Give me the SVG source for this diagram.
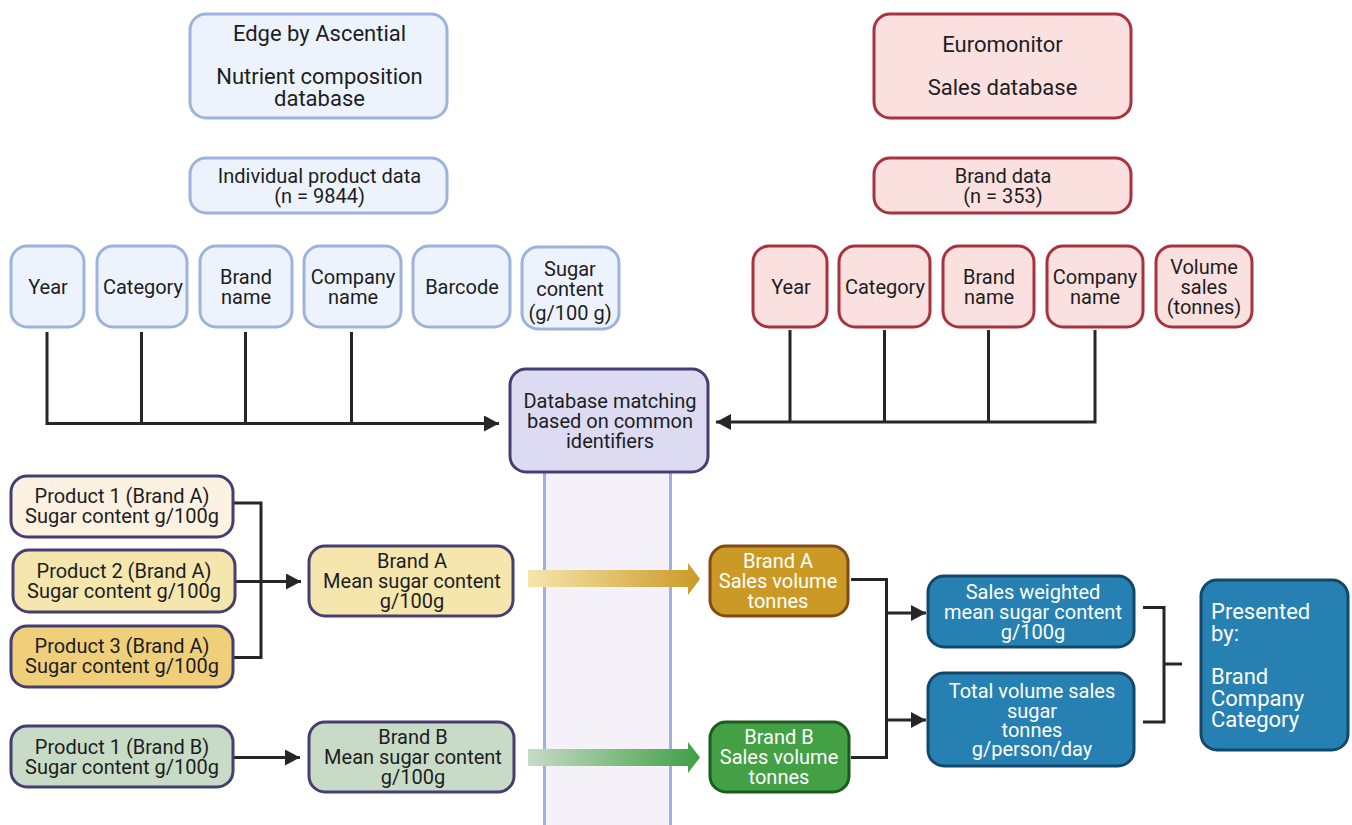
<svg xmlns="http://www.w3.org/2000/svg" width="1352" height="825" viewBox="0 0 1352 825">
<style>
text{font-family:Roboto,"Liberation Sans",sans-serif;font-size:20px;fill:#1d1d22;text-anchor:middle}
.w text,text.w{fill:#fff}
.big{font-size:22px}
.l{text-anchor:start}
rect{stroke-width:3}
.bl{fill:#edf3fc;stroke:#9db3dc}
.rd{fill:#fbe0e0;stroke:#a8333f}
.pu{stroke:#453f71}
.bu{fill:#2681b2;stroke:#12486b}
.c{fill:none;stroke:#262626;stroke-width:3}
</style>
<defs>
<marker id="a" markerUnits="userSpaceOnUse" markerWidth="16" markerHeight="16" refX="15" refY="8" orient="auto"><path d="M0 0L15 8L0 16z" fill="#262626"/></marker>
<linearGradient id="ga"><stop offset="0" stop-color="#f5e6ad"/><stop offset="1" stop-color="#cb9a26"/></linearGradient>
<linearGradient id="gb"><stop offset="0" stop-color="#c7dbc6"/><stop offset="1" stop-color="#3f9f45"/></linearGradient>
</defs>
<rect id="band" x="544.500" y="470" width="126" height="360" fill="#f5f1f9" stroke="none"/>
<path d="M544.500 470V825M670.500 470V825" fill="none" stroke="#9db3dc" stroke-width="3"/>
<g id="connectors">
<path class="c" d="M47 332V423.500H499" marker-end="url(#a)"/>
<path class="c" d="M141.500 332V423M245.500 332V423M351.500 332V423"/>
<path class="c" d="M1095 330V422H716" marker-end="url(#a)"/>
<path class="c" d="M790 330V422M884.500 330V422M988.500 330V422"/>
<path class="c" d="M233 503H261V657.500H233"/>
<path class="c" d="M235 581.500H301" marker-end="url(#a)"/>
<path class="c" d="M233 757.500H300" marker-end="url(#a)"/>
<path class="c" d="M851 579.500H886.500V757.500H851"/>
<path class="c" d="M886.500 613H926" marker-end="url(#a)"/>
<path class="c" d="M886.500 720H926" marker-end="url(#a)"/>
<path class="c" d="M1143 607.500H1164V722H1143M1164 664H1182"/>
<path d="M528 570H688V563L700 579L688 595V587H528z" fill="url(#ga)"/>
<path d="M528 749H688V742L700 757.500L688 773V766H528z" fill="url(#gb)"/>
</g>
<g id="edge"><rect class="bl" x="190" y="14" width="257" height="104" rx="16"/><text class="big" x="319.500" y="41">Edge by Ascential</text><text class="big" x="319.500" y="84">Nutrient composition</text><text class="big" x="319.500" y="106">database</text></g>
<g id="euromonitor"><rect class="rd" x="874" y="14" width="257" height="104" rx="16"/><text class="big" x="1002.500" y="52">Euromonitor</text><text class="big" x="1002.500" y="95">Sales database</text></g>
<g id="individual"><rect class="bl" x="190" y="158" width="257" height="55" rx="16"/><text x="319.500" y="183">Individual product data</text><text x="319.500" y="203">(n = 9844)</text></g>
<g id="brand-data"><rect class="rd" x="874" y="158" width="257" height="55" rx="16"/><text x="1003" y="183">Brand data</text><text x="1003" y="203">(n = 353)</text></g>
<g id="l-year"><rect class="bl" x="11" y="246" width="73" height="81" rx="16"/><text x="48" y="294">Year</text></g>
<g id="l-category"><rect class="bl" x="97" y="246" width="90" height="81" rx="16"/><text x="143" y="294">Category</text></g>
<g id="l-brand"><rect class="bl" x="200" y="246" width="92" height="81" rx="16"/><text x="246" y="284">Brand</text><text x="246" y="304">name</text></g>
<g id="l-company"><rect class="bl" x="304" y="246" width="97" height="81" rx="16"/><text x="353" y="284">Company</text><text x="353" y="304">name</text></g>
<g id="l-barcode"><rect class="bl" x="413" y="246" width="97" height="81" rx="16"/><text x="462" y="294">Barcode</text></g>
<g id="l-sugar"><rect class="bl" x="522" y="247" width="97" height="82" rx="16"/><text x="570" y="276">Sugar</text><text x="570" y="296">content</text><text x="570" y="320">(g/100 g)</text></g>
<g id="r-year"><rect class="rd" x="753" y="246" width="74" height="81" rx="16"/><text x="791" y="294">Year</text></g>
<g id="r-category"><rect class="rd" x="839" y="246" width="91" height="81" rx="16"/><text x="885" y="294">Category</text></g>
<g id="r-brand"><rect class="rd" x="943" y="246" width="91" height="81" rx="16"/><text x="989" y="284">Brand</text><text x="989" y="304">name</text></g>
<g id="r-company"><rect class="rd" x="1047" y="246" width="96" height="81" rx="16"/><text x="1095" y="284">Company</text><text x="1095" y="304">name</text></g>
<g id="r-volume"><rect class="rd" x="1156" y="246" width="96" height="81" rx="16"/><text x="1204" y="274">Volume</text><text x="1204" y="294">sales</text><text x="1204" y="314">(tonnes)</text></g>
<g id="matching"><rect class="pu" fill="#dcdbf2" x="510" y="369" width="198" height="103" rx="16"/><text x="610" y="408">Database matching</text><text x="610" y="428">based on common</text><text x="610" y="448">identifiers</text></g>
<g id="p1a"><rect class="pu" fill="#fdf1e2" x="11" y="476" width="222" height="61" rx="16"/><text x="122" y="503">Product 1 (Brand A)</text><text x="122" y="523">Sugar content g/100g</text></g>
<g id="p2a"><rect class="pu" fill="#f5e6ad" x="13" y="550" width="222" height="62" rx="16"/><text x="124" y="578">Product 2 (Brand A)</text><text x="124" y="598">Sugar content g/100g</text></g>
<g id="p3a"><rect class="pu" fill="#f0cf7b" x="11" y="626" width="222" height="61" rx="16"/><text x="122" y="653">Product 3 (Brand A)</text><text x="122" y="673">Sugar content g/100g</text></g>
<g id="p1b"><rect class="pu" fill="#c7dbc6" x="11" y="726" width="222" height="61" rx="16"/><text x="122" y="754">Product 1 (Brand B)</text><text x="122" y="774">Sugar content g/100g</text></g>
<g id="mean-a"><rect class="pu" fill="#f5e6ad" x="309" y="546" width="204" height="70" rx="16"/><text x="412" y="568">Brand A</text><text x="412" y="588">Mean sugar content</text><text x="412" y="608">g/100g</text></g>
<g id="mean-b"><rect class="pu" fill="#c7dbc6" x="309" y="722" width="205" height="70" rx="16"/><text x="413" y="744">Brand B</text><text x="413" y="764">Mean sugar content</text><text x="413" y="784">g/100g</text></g>
<g id="sales-a" class="w"><rect fill="#cb9a26" stroke="#824a14" x="710" y="546" width="138" height="70" rx="16"/><text x="778" y="568">Brand A</text><text x="778" y="588">Sales volume</text><text x="778" y="608">tonnes</text></g>
<g id="sales-b" class="w"><rect fill="#43a045" stroke="#1c5a20" x="710" y="722" width="139" height="70" rx="16"/><text x="779" y="744">Brand B</text><text x="779" y="764">Sales volume</text><text x="779" y="784">tonnes</text></g>
<g id="weighted" class="w"><rect class="bu" x="928" y="576" width="206" height="71" rx="16"/><text x="1033" y="599">Sales weighted</text><text x="1033" y="619">mean sugar content</text><text x="1033" y="639">g/100g</text></g>
<g id="total" class="w"><rect class="bu" x="928" y="673" width="206" height="93" rx="16"/><text x="1032" y="698">Total volume sales</text><text x="1032" y="718">sugar</text><text x="1032" y="737">tonnes</text><text x="1032" y="756">g/person/day</text></g>
<g id="presented" class="w"><rect class="bu" x="1201" y="580" width="147" height="170" rx="16"/><text class="big l" x="1211" y="619">Presented</text><text class="big l" x="1211" y="641">by:</text><text class="big l" x="1211" y="684">Brand</text><text class="big l" x="1211" y="706">Company</text><text class="big l" x="1211" y="727">Category</text></g>
</svg>
